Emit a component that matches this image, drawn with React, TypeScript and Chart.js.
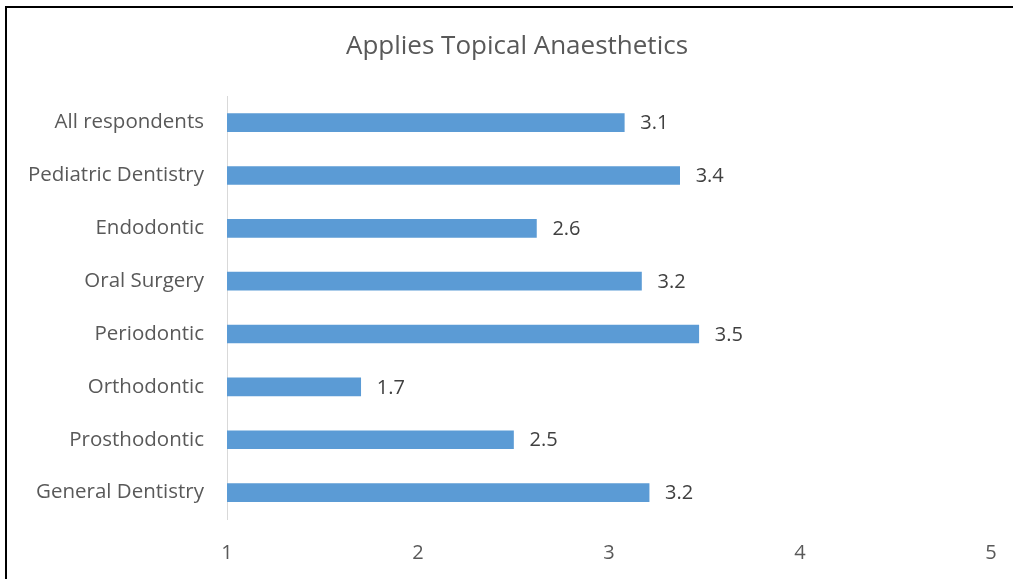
import React, { useEffect, useRef } from "react";
import { Chart, registerables } from "chart.js";

Chart.register(...registerables);

const categories = [
  "All respondents",
  "Pediatric Dentistry",
  "Endodontic",
  "Oral Surgery",
  "Periodontic",
  "Orthodontic",
  "Prosthodontic",
  "General Dentistry",
];
const values = [3.08, 3.37, 2.62, 3.17, 3.47, 1.7, 2.5, 3.21];
const xTicks = [1, 2, 3, 4, 5];
const title = "Applies Topical Anaesthetics";

const FONT = "'Open Sans', 'Noto Sans', sans-serif";

const valueLabels = {
  id: "valueLabels",
  afterDatasetsDraw(chart: any) {
    const { ctx } = chart;
    const meta = chart.getDatasetMeta(0);
    ctx.save();
    ctx.font = `20px ${FONT}`;
    ctx.fillStyle = "#404040";
    ctx.textAlign = "left";
    ctx.textBaseline = "middle";
    meta.data.forEach((el: any, i: number) => {
      ctx.fillText(values[i].toFixed(1), el.x + 16, el.y + 1);
    });
    ctx.restore();
  },
};

export default function App() {
  const ref = useRef<HTMLCanvasElement | null>(null);
  useEffect(() => {
    document.body.style.margin = "0";
    const chart = new Chart(ref.current as HTMLCanvasElement, {
      type: "bar",
      data: {
        labels: categories,
        datasets: [
          {
            data: values,
            backgroundColor: "#5B9BD5",
            barThickness: 18,
          },
        ],
      },
      options: {
        indexAxis: "y",
        animation: false,
        responsive: false,
        layout: { padding: { left: 21, right: 0, top: 0, bottom: 0 } },
        plugins: {
          legend: { display: false },
          tooltip: { enabled: false },
          title: {
            display: true,
            text: title,
            color: "#595959",
            font: { family: FONT, size: 26, weight: "normal" },
            padding: { top: 31, bottom: 34 },
          },
        },
        scales: {
          x: {
            min: 1,
            max: 5,
            afterBuildTicks(scale: any) {
              scale.ticks = xTicks.map((v) => ({ value: v }));
            },
            grid: { display: false, drawTicks: false },
            border: { display: false },
            ticks: {
              color: "#595959",
              font: { family: FONT, size: 20 },
              padding: 22,
              maxRotation: 0,
            },
            afterFit(scale: any) {
              scale.height = 60;
              scale.paddingRight = 22;
              scale.paddingLeft = 0;
            },
          },
          y: {
            grid: { display: false, drawTicks: false },
            border: { display: true, color: "#D9D9D9", width: 1 },
            ticks: {
              color: "#595959",
              font: { family: FONT, size: 20.5 },
              padding: 23,
            },
            afterFit(scale: any) {
              scale.width = 206;
            },
          },
        },
      },
      plugins: [valueLabels],
    });
    return () => chart.destroy();
  }, []);
  return (
    <div style={{ position: "relative", width: 1013, height: 579, overflow: "hidden", background: "#fff" }}>
      <canvas ref={ref} width={1013} height={579} style={{ position: "absolute", left: 0, top: 0 }} />
      <div
        style={{
          position: "absolute",
          left: 5,
          top: 6,
          width: 1100,
          height: 700,
          borderTop: "2px solid #000",
          borderLeft: "2px solid #000",
          pointerEvents: "none",
        }}
      />
    </div>
  );
}
